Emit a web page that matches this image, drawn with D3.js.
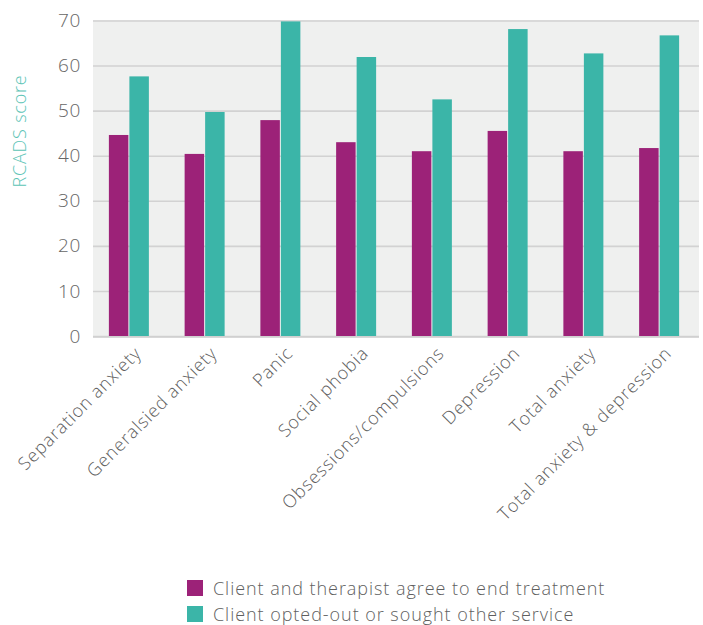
<!DOCTYPE html>
<html>
<head>
<meta charset="utf-8">
<script src="https://cdn.jsdelivr.net/npm/d3@7"></script>
<style>
  body { margin: 0; background: #fff; }
  svg { display: block; font-family: "Open Sans", sans-serif; }
</style>
</head>
<body>
<svg id="chart" width="703" height="625"></svg>
<script>
const categories = ["Separation anxiety", "Generalsied anxiety", "Panic", "Social phobia",
  "Obsessions/compulsions", "Depression", "Total anxiety", "Total anxiety & depression"];
const seriesNames = ["Client and therapist agree to end treatment", "Client opted-out or sought other service"];
const agreeValues = [44.6, 40.4, 47.9, 43.0, 41.0, 45.5, 41.0, 41.7];
const optedOutValues = [57.6, 49.7, 69.8, 61.9, 52.5, 68.1, 62.7, 66.7];
const yTicks = [0, 10, 20, 30, 40, 50, 60, 70];
const colors = ["#9c2278", "#3bb5a8"];

const svg = d3.select("#chart");
const plot = { left: 93, right: 699, top: 20, bottom: 336 };
const font = "'Open Sans', sans-serif";

const y = d3.scaleLinear().domain([0, 70]).range([plot.bottom, plot.top + 0.5]);
const x0 = d3.scaleBand().domain(categories).range([91, 697]).paddingInner(0.472).paddingOuter(0.236);
const x1 = d3.scaleBand().domain([0, 1]).range([0, x0.bandwidth()]).paddingInner(0.05);

// background
svg.append("rect").attr("x", plot.left).attr("y", plot.top)
  .attr("width", plot.right - plot.left).attr("height", plot.bottom - plot.top + 1)
  .attr("fill", "#eff0ef");

// gridlines
const yAxis = d3.axisLeft(y).tickValues(yTicks).tickSize(-(plot.right - plot.left)).tickPadding(12);
const gy = svg.append("g").attr("transform", `translate(${plot.left},0)`).call(yAxis);
gy.select(".domain").remove();
gy.selectAll(".tick line").attr("stroke", "#d2d2d2").attr("stroke-width", 1.6);
gy.selectAll(".tick text").attr("fill", "#666").attr("font-size", 19).attr("font-family", font)
  .attr("font-weight", 300).attr("letter-spacing", 0.6);

// bars
const data = categories.map((c, i) => ({ c, vals: [agreeValues[i], optedOutValues[i]] }));
const groups = svg.append("g").selectAll("g").data(data).join("g")
  .attr("transform", d => `translate(${x0(d.c)},0)`);
groups.selectAll("rect").data(d => d.vals.map((v, k) => ({ v, k }))).join("rect")
  .attr("x", d => x1(d.k)).attr("width", x1.bandwidth())
  .attr("y", d => y(d.v)).attr("height", d => y(0) - y(d.v))
  .attr("fill", d => colors[d.k]);

// bottom axis line
svg.append("line").attr("x1", plot.left).attr("x2", plot.right)
  .attr("y1", plot.bottom + 1).attr("y2", plot.bottom + 1)
  .attr("stroke", "#cfcfcf").attr("stroke-width", 1.6);

// x labels
svg.append("g").selectAll("text").data(categories).join("text")
  .attr("transform", d => `translate(${x0(d) + x0.bandwidth() / 2 + 9},${plot.bottom + 14}) rotate(-45)`)
  .attr("text-anchor", "end").attr("dy", "0.35em")
  .attr("font-size", 18).attr("font-weight", 300).attr("letter-spacing", 0.85).attr("fill", "#5f5f5f")
  .text(d => d);

// y title
svg.append("text").attr("transform", `translate(26,131) rotate(-90)`)
  .attr("text-anchor", "middle").attr("font-size", 18).attr("font-weight", 300)
  .attr("letter-spacing", 0.8).attr("fill", "#5cc4b6")
  .text("RCADS score");

// legend
const lg = svg.append("g").selectAll("g").data(seriesNames).join("g")
  .attr("transform", (d, i) => `translate(187,${580 + i * 26})`);
lg.append("rect").attr("width", 16).attr("height", 16).attr("fill", (d, i) => colors[i]);
lg.append("text").attr("x", 26).attr("y", 15).attr("font-size", 18).attr("font-weight", 300)
  .attr("letter-spacing", 0.95).attr("fill", "#5f5f5f").text(d => d);
</script>
</body>
</html>
